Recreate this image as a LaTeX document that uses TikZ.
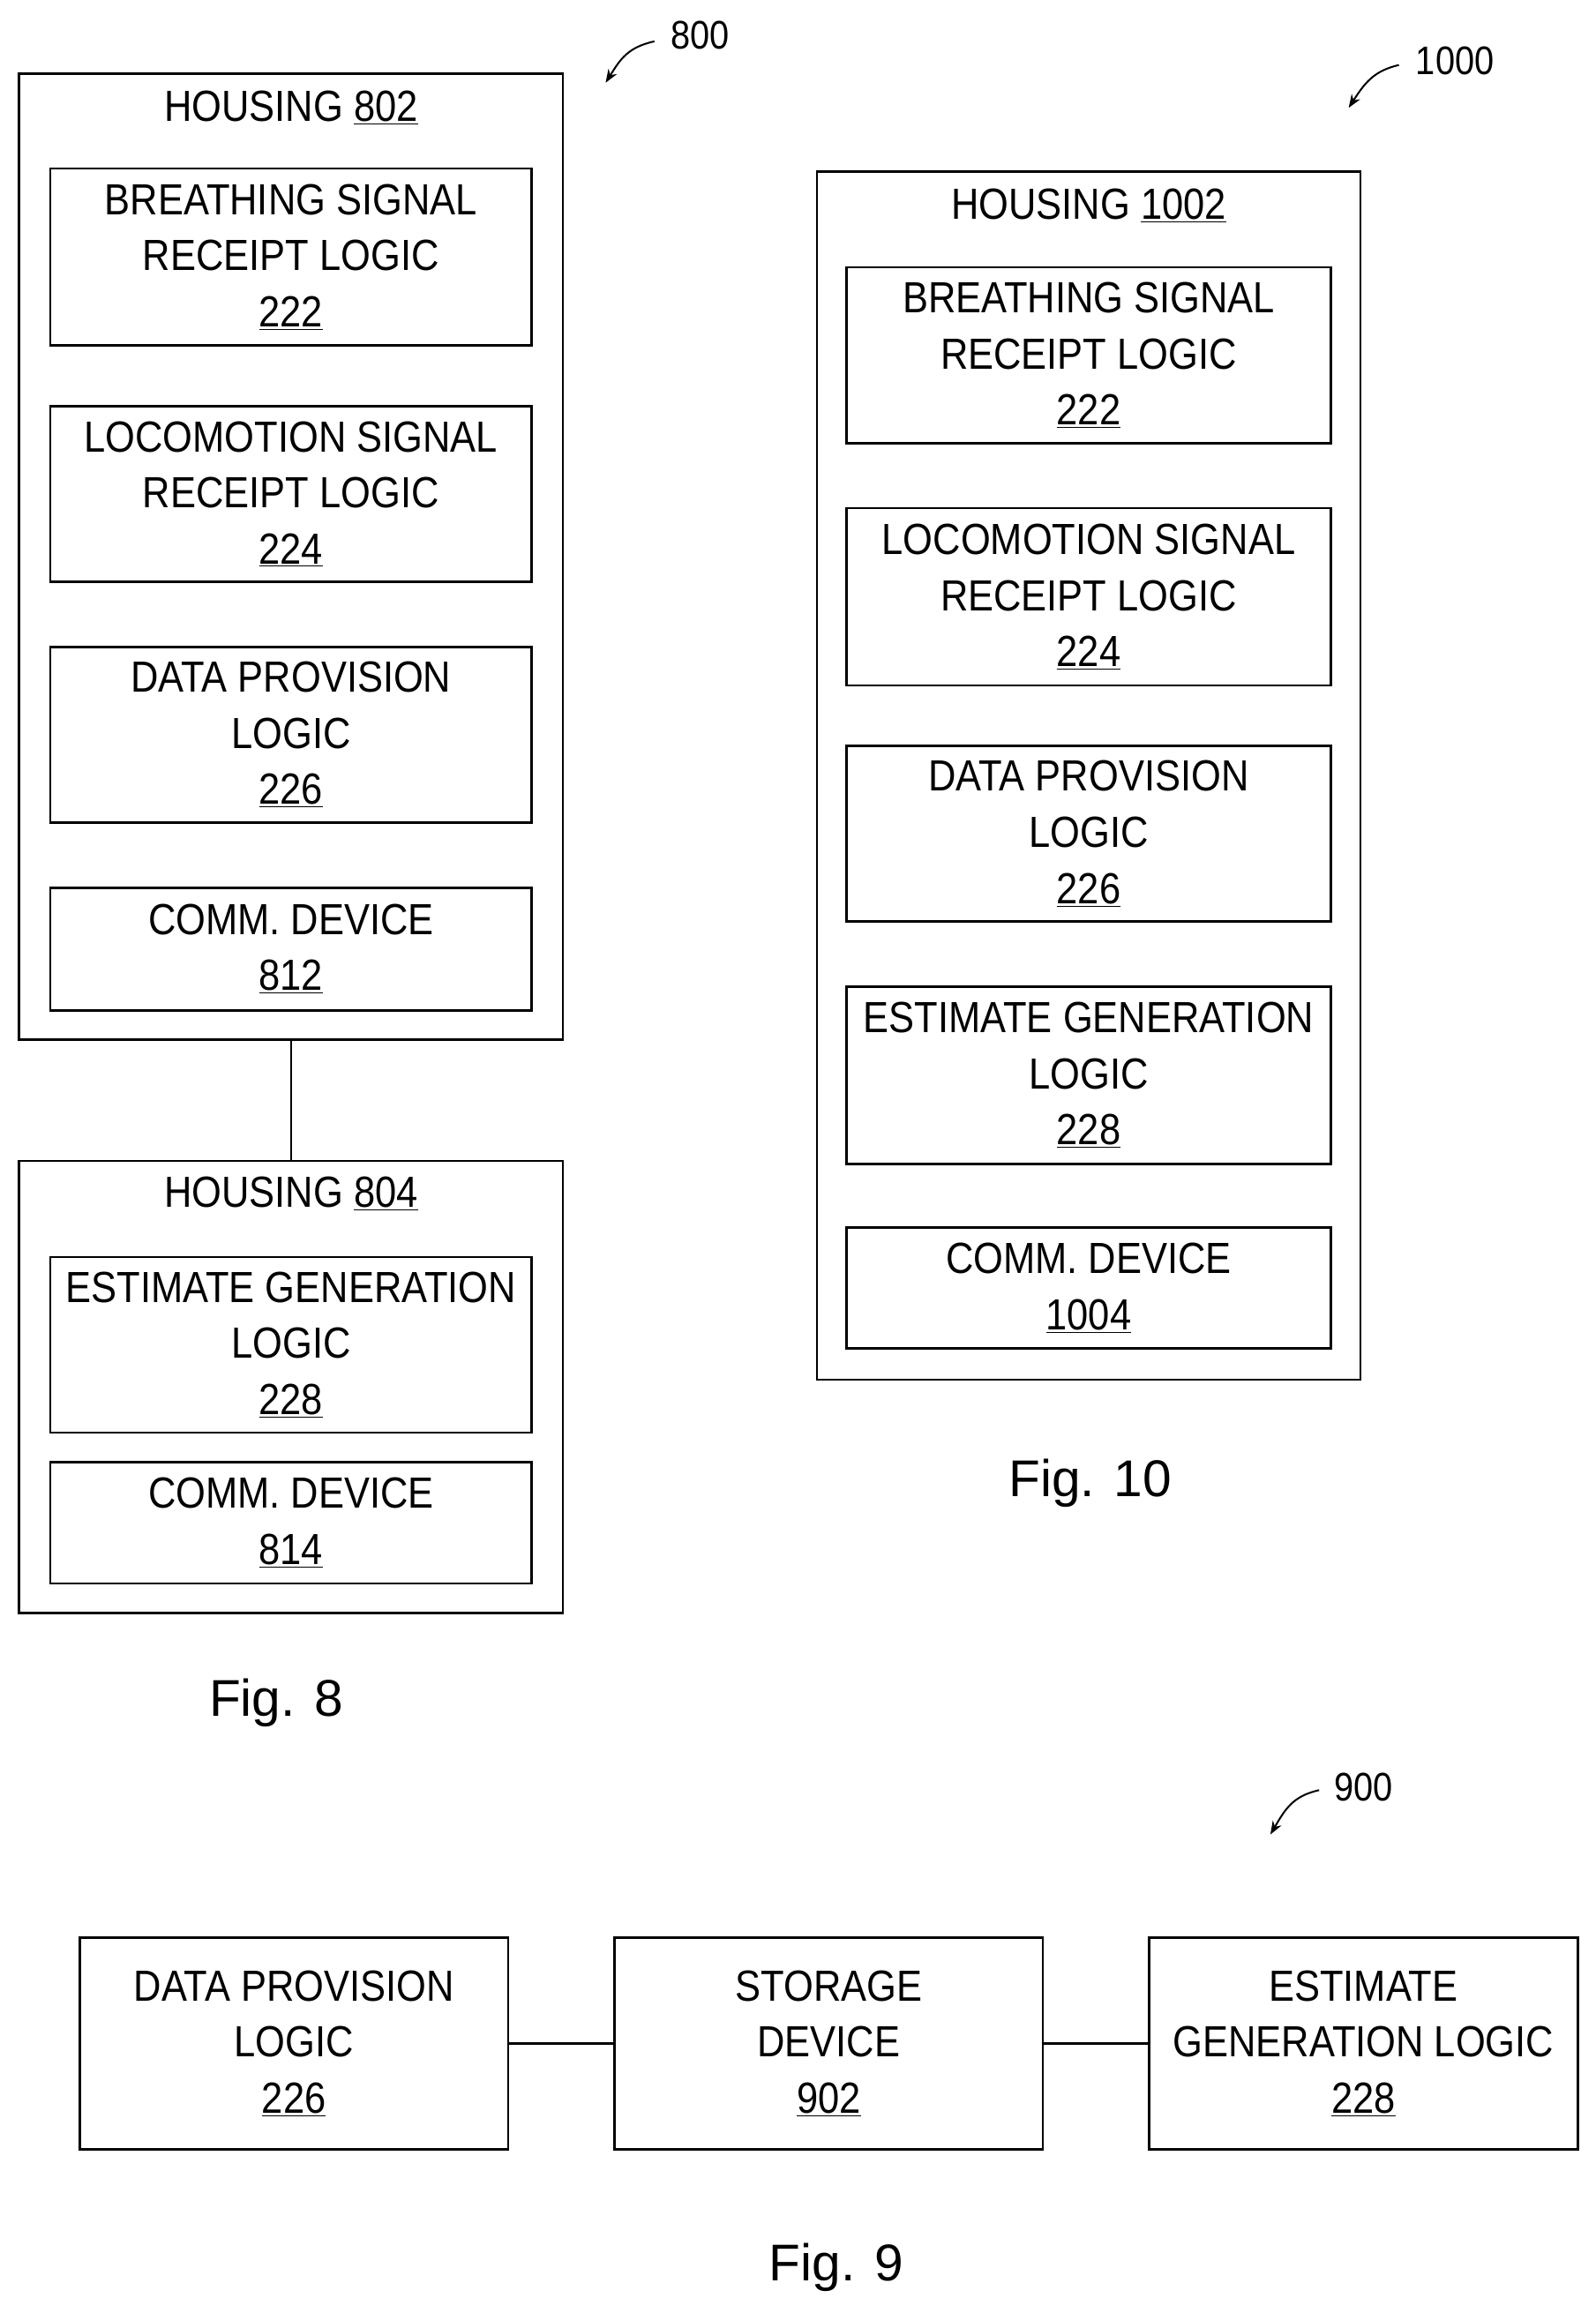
\documentclass[tikz,border=0pt]{standalone}
\usepackage{fontspec}
\usetikzlibrary{arrows.meta}
\setmainfont{Liberation Sans}
\newfontfamily\narrowf[FakeStretch=0.88]{Liberation Sans}
\begin{document}
\begin{tikzpicture}[x=1pt,y=-1pt,
  bx/.style={draw,line width=1.6pt},
  lb/.style={font=\narrowf\fontsize{29.5}{38}\selectfont,align=center,inner sep=0},
  fig/.style={font=\fontsize{35}{40}\selectfont,inner sep=0},
  ln/.style={line width=1.6pt}]
\useasboundingbox (0,0) rectangle (1080,1566);
\newcommand\ib[5]{\node[bx,minimum width=#3-#2,minimum height=#5-#4,inner sep=0] (#1) at ({(#2+#3)/2},{(#4+#5)/2}) {};}
% Fig 8
\ib{h802}{13}{381}{50}{704}
\node[lb] (t802) at (197,73) {HOUSING \underline{802}};
\ib{a}{34}{360}{114}{234}\node[lb] at (a) {BREATHING SIGNAL\\RECEIPT LOGIC\\\underline{222}};
\ib{b}{34}{360}{275}{394}\node[lb] at (b) {LOCOMOTION SIGNAL\\RECEIPT LOGIC\\\underline{224}};
\ib{c}{34}{360}{438}{557}\node[lb] at (c) {DATA PROVISION\\LOGIC\\\underline{226}};
\ib{d}{34}{360}{601}{684}\node[lb] at (d) {COMM. DEVICE\\\underline{812}};
\ib{h804}{13}{381}{786}{1092}
\node[lb] (t804) at (197,808) {HOUSING \underline{804}};
\ib{e}{34}{360}{851}{970}\node[lb] at (e) {ESTIMATE GENERATION\\LOGIC\\\underline{228}};
\ib{f}{34}{360}{990}{1072}\node[lb] at (f) {COMM. DEVICE\\\underline{814}};
\draw[ln] (h802.south) -- (h804.north);
\node[fig] (f8) at (187,1153) {Fig. 8};
\node[lb,font=\narrowf\fontsize{27}{30}\selectfont] (n800) at (474,24) {800};
\draw[line width=1.2pt,-{Stealth[length=9pt]}] (443,28) .. controls (425,32) and (420,40) .. (410,56);
% Fig 10
\ib{h1002}{553}{921}{116}{934}
\node[lb] (t1002) at (737,139) {HOUSING \underline{1002}};
\ib{g}{573}{901}{181}{300}\node[lb] at (g) {BREATHING SIGNAL\\RECEIPT LOGIC\\\underline{222}};
\ib{h}{573}{901}{344}{464}\node[lb] at (h) {LOCOMOTION SIGNAL\\RECEIPT LOGIC\\\underline{224}};
\ib{i}{573}{901}{505}{624}\node[lb] at (i) {DATA PROVISION\\LOGIC\\\underline{226}};
\ib{j}{573}{901}{668}{788}\node[lb] at (j) {ESTIMATE GENERATION\\LOGIC\\\underline{228}};
\ib{k}{573}{901}{831}{913}\node[lb] at (k) {COMM. DEVICE\\\underline{1004}};
\node[fig] (f10) at (738,1004) {Fig. 10};
\node[lb,font=\narrowf\fontsize{27}{30}\selectfont] (n1000) at (985,41) {1000};
\draw[line width=1.2pt,-{Stealth[length=9pt]}] (947,44) .. controls (930,48) and (924,56) .. (913,73);
% Fig 9
\ib{p}{54}{344}{1312}{1455}\node[lb] at (p) {DATA PROVISION\\LOGIC\\\underline{226}};
\ib{q}{416}{706}{1312}{1455}\node[lb] at (q) {STORAGE\\DEVICE\\\underline{902}};
\ib{r}{778}{1068}{1312}{1455}\node[lb] at (r) {ESTIMATE\\GENERATION LOGIC\\\underline{228}};
\draw[ln] (p.east) -- (q.west);
\draw[ln] (q.east) -- (r.west);
\node[fig] (f9) at (566,1535) {Fig. 9};
\node[lb,font=\narrowf\fontsize{27}{30}\selectfont] (n900) at (923,1210) {900};
\draw[line width=1.2pt,-{Stealth[length=9pt]}] (893,1212) .. controls (875,1216) and (870,1225) .. (860,1242);
\end{tikzpicture}
\end{document}
